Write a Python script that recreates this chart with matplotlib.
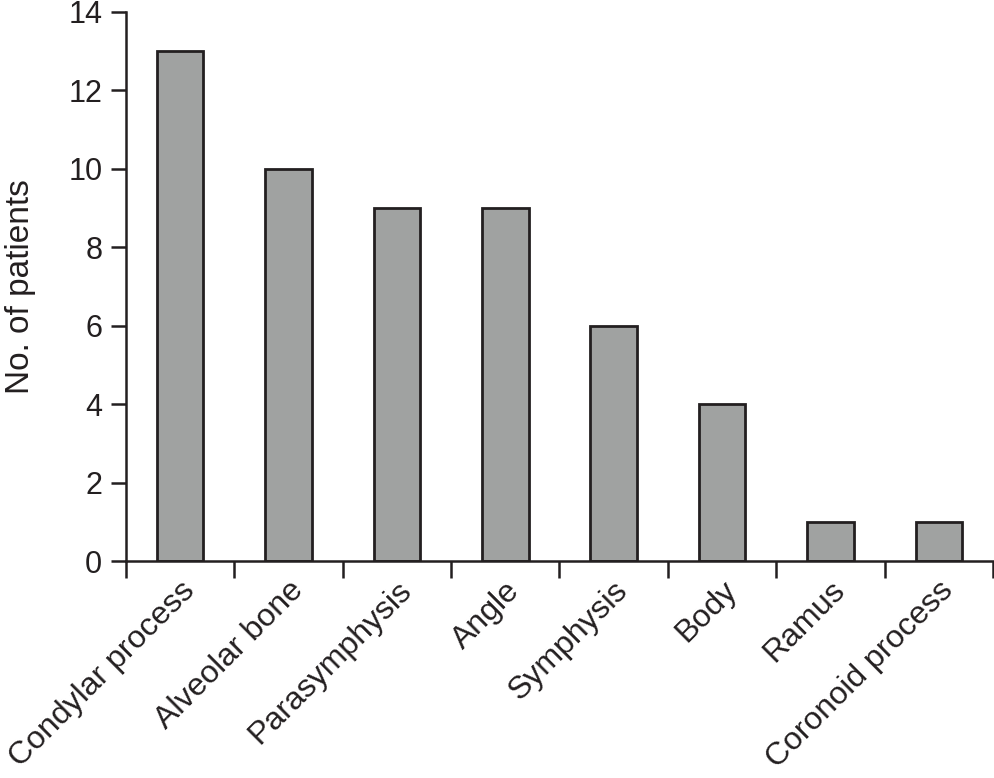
import matplotlib.pyplot as plt
import matplotlib.transforms as mtransforms
import numpy as np

# Dane
kategorie = ["Condylar process", "Alveolar bone", "Parasymphysis", "Angle",
             "Symphysis", "Body", "Ramus", "Coronoid process"]
pacjenci = [13, 10, 9, 9, 6, 4, 1, 1]
y_ticks = [0, 2, 4, 6, 8, 10, 12, 14]

plt.rcParams['font.family'] = ['Liberation Sans', 'DejaVu Sans']
kolor_krawedzi = '#231f20'

fig = plt.figure(figsize=(9.95, 7.78), dpi=100)
ax = fig.add_axes([0.1266, 0.2789, 0.8714, 0.7057])

x = np.arange(len(kategorie))
ax.bar(x, pacjenci, width=0.43, color='#a0a2a1', edgecolor=kolor_krawedzi, linewidth=2, zorder=2)

ax.set_xlim(-0.5, len(kategorie) - 0.5)
ax.set_ylim(0, 14)
ax.set_yticks(y_ticks)
ax.tick_params(axis='y', direction='out', length=11, width=1.8, colors=kolor_krawedzi,
               labelsize=22, labelcolor='#231f20', pad=6)

# etykiety pod słupkami, kreski na granicach kategorii
ax.set_xticks(x)
ax.set_xticks(np.arange(len(kategorie) + 1) - 0.5, minor=True)
ax.tick_params(axis='x', which='major', length=0, pad=18, labelsize=23, labelcolor='#231f20')
ax.tick_params(axis='x', which='minor', direction='out', length=12, width=1.8, colors=kolor_krawedzi)
ax.set_xticklabels(kategorie, rotation=45, ha='right', va='center', rotation_mode='anchor')
przesun = mtransforms.ScaledTranslation(10 / 100, 0, fig.dpi_scale_trans)
for lab in ax.get_xticklabels():
    lab.set_transform(lab.get_transform() + przesun)

ax.set_ylabel("No. of patients", fontsize=24, color='#231f20')
ax.yaxis.set_label_coords(-0.104, 0.5)

for s in ['top', 'right']:
    ax.spines[s].set_visible(False)
for s in ['left', 'bottom']:
    ax.spines[s].set_linewidth(1.8)
    ax.spines[s].set_color(kolor_krawedzi)

fig.savefig("out.png", dpi=100)
